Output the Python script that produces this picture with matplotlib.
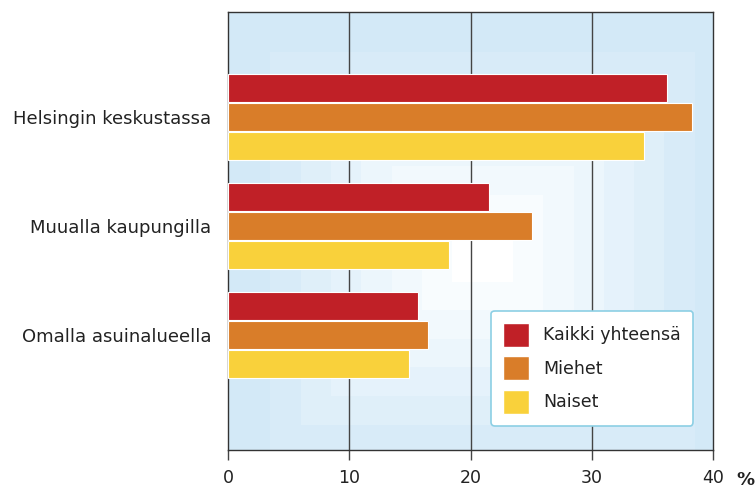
import numpy as np
import matplotlib.pyplot as plt
from matplotlib.patches import Patch
from matplotlib.colors import LinearSegmentedColormap

# Data
categories = ['Helsingin keskustassa', 'Muualla kaupungilla', 'Omalla asuinalueella']
series_names = ['Kaikki yhteensä', 'Miehet', 'Naiset']
kaikki = [36.2, 21.5, 15.7]
miehet = [38.3, 25.1, 16.5]
naiset = [34.3, 18.2, 14.9]
colors = ['#c02027', '#d97d29', '#f9d13b']

fig = plt.figure(figsize=(7.55, 4.88), dpi=100)
ax = fig.add_axes([228/755, 1 - 450/488, (713 - 228)/755, (450 - 12)/488])

ylo, yhi = 2 + 1.055, -0.963
ax.set_xlim(0, 40)
ax.set_ylim(ylo, yhi)

# stepped light-blue background, whiter toward the middle
nx, ny = 400, 300
gx = np.linspace(-1, 1, nx)
gy = np.linspace(-1, 1, ny)
X, Y = np.meshgrid(gx, gy)
cx, cy = 0.05, 0.1
d = np.maximum(np.abs(X - cx) / 1.0, np.abs(Y - cy) / 1.05)
d = np.floor(np.clip(d, 0, 0.999) * 8) / 8
cmap = LinearSegmentedColormap.from_list('bg', ['#ffffff', '#eaf5fc', '#d3e9f7'])
ax.imshow(d, cmap=cmap, extent=[0, 40, ylo, yhi], aspect='auto',
          zorder=0, vmin=0, vmax=0.85, interpolation='nearest')

ypos = np.arange(len(categories))
h = 0.257
step = 0.266
for i, (vals, c, name) in enumerate(zip([kaikki, miehet, naiset], colors, series_names)):
    ax.barh(ypos + (i - 1) * step, vals, height=h, color=c,
            edgecolor='white', linewidth=0.8, zorder=3, label=name)

for x in [10, 20, 30]:
    ax.axvline(x, color='#444444', linewidth=1.0, zorder=1)

for s in ax.spines.values():
    s.set_color('#333333')
    s.set_linewidth(1.0)

ax.set_yticks(ypos)
ax.set_yticklabels(categories, fontsize=13, color='#222222')
ax.tick_params(axis='y', length=0, pad=12)
ax.set_xticks([0, 10, 20, 30, 40])
ax.set_xticklabels(['0', '10', '20', '30', '40'], fontsize=12.5, color='#222222')
ax.tick_params(axis='x', length=7, width=1, color='#444444', pad=7)
ax.text(1.066, -0.068, '%', transform=ax.transAxes, fontsize=13,
        fontweight='bold', color='#222222', va='center', ha='center')

handles = [Patch(facecolor=c, edgecolor='white') for c in colors]
leg = ax.legend(handles, series_names, loc='lower right',
                bbox_to_anchor=(0.959, 0.055), fontsize=12.5,
                frameon=True, fancybox=True, handlelength=1.5,
                handleheight=1.75, labelspacing=0.55, borderpad=0.7,
                handletextpad=0.8, borderaxespad=0)
leg.get_frame().set_edgecolor('#8ccfe4')
leg.get_frame().set_linewidth(1.2)
leg.get_frame().set_facecolor('white')
leg.get_frame().set_alpha(1)
leg.set_zorder(5)
for t in leg.get_texts():
    t.set_color('#222222')

fig.savefig('out.png', dpi=100)
